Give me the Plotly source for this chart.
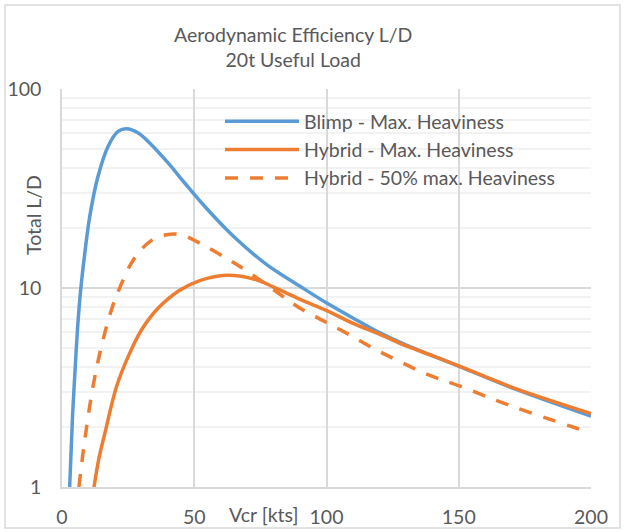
import plotly.graph_objects as go

# Data (Vcr in kts, Total L/D)
blimp_x = [2.9, 4.0, 5.0, 6.0, 7.0, 8.5, 10.5, 13.6, 17.4, 21.2, 24.4, 28.8, 33.8, 40.1, 46.4, 53.4, 64.8, 77.4, 90.0, 100.1, 110.1, 120.2, 130.4, 140.4, 150.2, 170.7, 200.0]
blimp_y = [1.0, 2.3, 4.0, 6.6, 9.6, 14.5, 22.9, 36.3, 51.4, 61.2, 63.1, 60.1, 52.5, 42.5, 33.7, 26.2, 18.2, 13.1, 10.2, 8.4, 7.05, 5.95, 5.15, 4.55, 4.04, 3.13, 2.27]

hyb_x = [12.1, 14.0, 16.2, 20.6, 25.0, 30.1, 36.4, 44.5, 52.1, 62.2, 73.6, 80.0, 90.0, 100.1, 110.1, 120.2, 130.4, 140.4, 150.2, 170.7, 200.0]
hyb_y = [1.0, 1.4, 1.86, 3.19, 4.52, 6.17, 7.93, 9.75, 10.9, 11.6, 11.0, 10.1, 8.77, 7.70, 6.64, 5.85, 5.10, 4.55, 4.05, 3.15, 2.34]

hyb50_x = [6.4, 8.6, 11.7, 14.9, 18.7, 21.8, 26.9, 33.2, 39.5, 45.2, 52.1, 62.2, 71.0, 81.2, 90.0, 100.1, 108.9, 118.4, 127.8, 137.9, 150.2, 170.7, 200.0]
hyb50_y = [1.0, 1.72, 3.19, 5.08, 7.78, 10.0, 13.8, 17.1, 18.5, 18.5, 16.8, 14.1, 11.9, 9.55, 7.91, 6.70, 5.80, 4.92, 4.26, 3.69, 3.22, 2.53, 1.87]

names = ["Blimp - Max. Heaviness", "Hybrid - Max. Heaviness", "Hybrid - 50% max. Heaviness"]
x_ticks = [0, 50, 100, 150, 200]
y_ticks = [1, 10, 100]

BLUE = "#5B9BD5"
ORANGE = "#ED7D31"
TXT = "#595959"
FONT = "Lato"
FS = 19.5

fig = go.Figure()
fig.add_trace(go.Scatter(x=blimp_x, y=blimp_y, mode="lines", name=names[0],
                         line=dict(color=BLUE, width=3.5, shape="spline", smoothing=1.0)))
fig.add_trace(go.Scatter(x=hyb_x, y=hyb_y, mode="lines", name=names[1],
                         line=dict(color=ORANGE, width=3.5, shape="spline", smoothing=1.0)))
fig.add_trace(go.Scatter(x=hyb50_x, y=hyb50_y, mode="lines", name=names[2],
                         line=dict(color=ORANGE, width=3.5, shape="spline", smoothing=1.0, dash="13px,12px")))

L, R, T, B = 62, 35, 89, 45
W, H = 626, 532
pw, ph = W - L - R, H - T - B

def px2paper_x(px):
    return (px - L) / pw

def px2paper_y(py):
    return (H - B - py) / ph

fig.update_layout(
    width=W, height=H,
    margin=dict(l=L, r=R, t=T, b=B, autoexpand=False),
    paper_bgcolor="white", plot_bgcolor="white",
    font=dict(family=FONT, color=TXT, size=FS),
    showlegend=True,
    legend=dict(x=px2paper_x(220), y=px2paper_y(102), xanchor="left", yanchor="top",
                bgcolor="rgba(0,0,0,0)", font=dict(size=FS, color=TXT, family=FONT),
                itemwidth=74, tracegroupgap=0),
    xaxis=dict(range=[0, 200], tickvals=x_ticks, ticktext=[str(v) for v in x_ticks],
               showgrid=True, gridcolor="#d9d9d9", gridwidth=1.5,
               showline=True, linecolor="#d9d9d9", linewidth=1.5,
               zeroline=False, ticks="", tickfont=dict(size=FS, color=TXT, family=FONT),
               ticklabelstandoff=12, fixedrange=True, automargin=False),
    yaxis=dict(type="log", range=[0, 2], tickvals=y_ticks, ticktext=[str(v) for v in y_ticks],
               showgrid=True, gridcolor="#d9d9d9", gridwidth=1.5,
               showline=True, linecolor="#d9d9d9", linewidth=1.5,
               zeroline=False, ticks="", tickfont=dict(size=FS, color=TXT, family=FONT),
               ticklabelstandoff=15, fixedrange=True, automargin=False,
               minor=dict(tickvals=[2, 3, 4, 5, 6, 7, 8, 9, 20, 30, 40, 50, 60, 70, 80, 90],
                          showgrid=True, gridcolor="#f2f2f2", gridwidth=1.5, ticks="")),
    annotations=[
        dict(text="Aerodynamic Efficiency L/D<br>20t Useful Load", xref="paper", yref="paper",
             x=px2paper_x(293), y=px2paper_y(47), xanchor="center", yanchor="middle",
             showarrow=False, font=dict(size=FS, color=TXT, family=FONT)),
        dict(text="Vcr [kts]", xref="paper", yref="paper",
             x=px2paper_x(263), y=px2paper_y(514), xanchor="center", yanchor="middle",
             showarrow=False, font=dict(size=FS, color=TXT, family=FONT)),
        dict(text="Total L/D", xref="paper", yref="paper", textangle=-90,
             x=px2paper_x(33), y=px2paper_y(215), xanchor="center", yanchor="middle",
             showarrow=False, font=dict(size=FS, color=TXT, family=FONT)),
    ],
    shapes=[
        dict(type="rect", xref="paper", yref="paper", layer="below",
             x0=px2paper_x(5), x1=px2paper_x(620), y0=px2paper_y(528), y1=px2paper_y(5),
             line=dict(color="#d9d9d9", width=1.5), fillcolor="rgba(0,0,0,0)"),
    ],
)

fig.write_html("out.html", config={"displayModeBar": False})
